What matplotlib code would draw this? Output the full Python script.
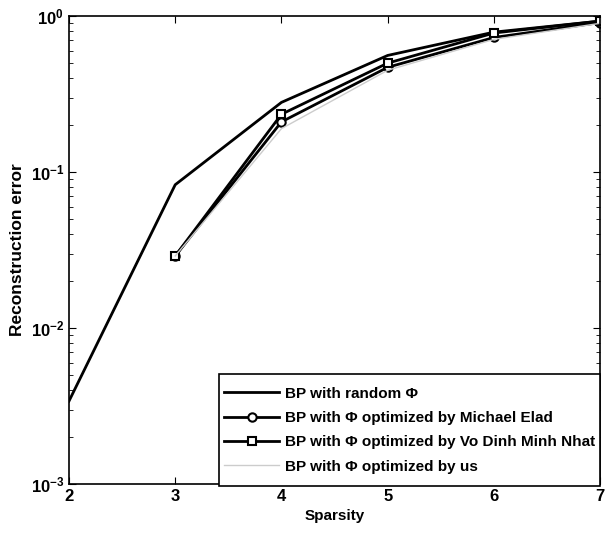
import matplotlib
matplotlib.use('Agg')
import matplotlib.pyplot as plt
from matplotlib.ticker import LogLocator, NullFormatter

plt.rcParams['font.family'] = ['Liberation Sans', 'DejaVu Sans']
plt.rcParams['font.weight'] = 'bold'
plt.rcParams['mathtext.default'] = 'bf'

# values
sparsity_random = [2, 3, 4, 5, 6, 7]
err_random = [0.0034, 0.083, 0.28, 0.56, 0.79, 0.93]

sparsity_opt = [3, 4, 5, 6, 7]
err_elad = [0.029, 0.21, 0.47, 0.73, 0.91]
err_nhat = [0.029, 0.235, 0.50, 0.78, 0.93]
err_us = [0.029, 0.19, 0.45, 0.71, 0.90]

labels = ['BP with random Φ',
          'BP with Φ optimized by Michael Elad',
          'BP with Φ optimized by Vo Dinh Minh Nhat',
          'BP with Φ optimized by us']

fig = plt.figure(figsize=(6.05, 5.39), dpi=100)
ax = fig.add_axes([0.114, 0.102, 0.878, 0.868])

ax.semilogy(sparsity_random, err_random, color='black', lw=2, label=labels[0])
ax.semilogy(sparsity_opt, err_elad, color='black', lw=2, marker='o',
            ms=6, mfc='white', mec='black', mew=1.5, label=labels[1])
ax.semilogy(sparsity_opt, err_nhat, color='black', lw=2, marker='s',
            ms=6, mfc='white', mec='black', mew=1.5, label=labels[2])
ax.semilogy(sparsity_opt, err_us, color='#cccccc', lw=1, label=labels[3])

ax.set_xlim(2, 7)
ax.set_ylim(1e-3, 1)
ax.set_xticks([2, 3, 4, 5, 6, 7])
ax.yaxis.set_major_locator(LogLocator(base=10, numticks=10))
ax.yaxis.set_minor_locator(LogLocator(base=10, subs=range(2, 10), numticks=10))
ax.yaxis.set_minor_formatter(NullFormatter())
ax.tick_params(which='both', direction='in', top=True, right=True, labelsize=12)
ax.tick_params(which='major', length=5)
ax.tick_params(which='minor', length=3)
for sp in ax.spines.values():
    sp.set_linewidth(1.2)

ax.set_xlabel('Sparsity', fontsize=11, fontweight='bold')
ax.set_ylabel('Reconstruction error', fontsize=12.5, fontweight='bold')

leg = ax.legend(loc='lower right', bbox_to_anchor=(1, 0.012), borderaxespad=0,
                fontsize=11, handlelength=3.6, handletextpad=0.4,
                labelspacing=0.68, borderpad=0.3, fancybox=False,
                framealpha=1, edgecolor='black')
# taller frame than the packed box, same width (like the matlab legend)
frame = leg.get_frame()
frame.set_linewidth(1.2)
frame.set_boxstyle('square', pad=0.02)
frame.set_mutation_aspect(25)

fig.savefig('out.png', dpi=100)
